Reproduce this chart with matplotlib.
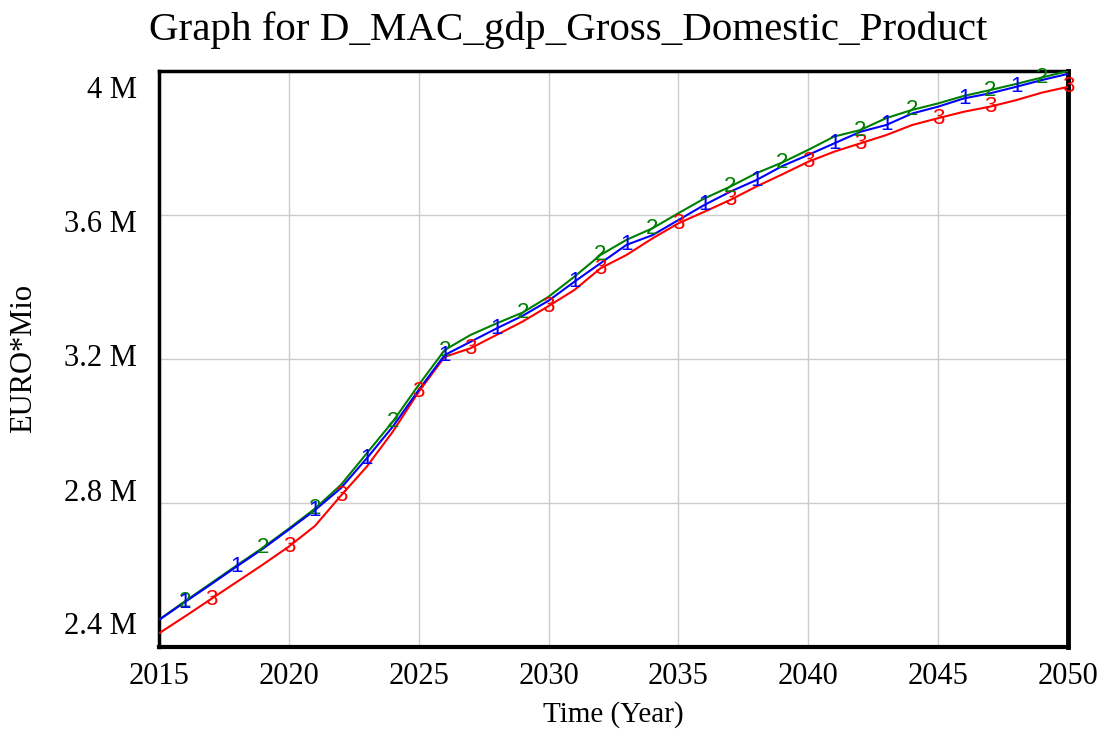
import numpy as np
import matplotlib
matplotlib.use("Agg")
import matplotlib.pyplot as plt

# datos (EURO*Mio, en millones)
years = np.arange(2015, 2051)

run1 = [2.475, 2.525, 2.574, 2.624, 2.673, 2.726, 2.780, 2.841, 2.924, 3.012,
        3.114, 3.211, 3.248, 3.285, 3.320, 3.362, 3.415, 3.466, 3.517, 3.544,
        3.586, 3.628, 3.665, 3.697, 3.736, 3.767, 3.799, 3.831, 3.850, 3.882,
        3.901, 3.924, 3.938, 3.956, 3.975, 3.992]
run2 = [2.476, 2.527, 2.577, 2.627, 2.676, 2.729, 2.784, 2.850, 2.938, 3.026,
        3.128, 3.225, 3.267, 3.299, 3.329, 3.373, 3.429, 3.489, 3.531, 3.563,
        3.605, 3.646, 3.679, 3.716, 3.746, 3.781, 3.818, 3.836, 3.869, 3.892,
        3.910, 3.931, 3.947, 3.964, 3.982, 4.000]
run3 = [2.438, 2.485, 2.533, 2.581, 2.629, 2.679, 2.736, 2.820, 2.901, 2.998,
        3.109, 3.206, 3.230, 3.267, 3.304, 3.347, 3.392, 3.452, 3.489, 3.535,
        3.577, 3.609, 3.642, 3.679, 3.713, 3.748, 3.776, 3.799, 3.822, 3.850,
        3.869, 3.887, 3.901, 3.919, 3.940, 3.956]

# anos donde aparece el numero de cada serie
marks1 = [2016, 2018, 2021, 2023, 2026, 2028, 2031, 2033, 2036, 2038, 2041, 2043, 2046, 2048]
marks2 = [2016, 2019, 2021, 2024, 2026, 2029, 2032, 2034, 2037, 2039, 2042, 2044, 2047, 2049]
marks3 = [2017, 2020, 2022, 2025, 2027, 2030, 2032, 2035, 2037, 2040, 2042, 2045, 2047, 2050]

yticks = [2.4, 2.8, 3.2, 3.6, 4.0]
ylabels = ["2.4 M", "2.8 M", "3.2 M", "3.6 M", "4 M"]
xticks = [2015, 2020, 2025, 2030, 2035, 2040, 2045, 2050]

plt.rcParams["font.family"] = ["Liberation Serif", "DejaVu Serif"]

W, H = 1104, 729
fig = plt.figure(figsize=(W / 100, H / 100), dpi=100)
ax = fig.add_axes([159 / W, 1 - 647 / H, (1068 - 159) / W, (647 - 71) / H])

series = [(run3, marks3, "3", "#ff0000"),
          (run2, marks2, "2", "#008000"),
          (run1, marks1, "1", "#0000ff")]
for vals, marks, tag, col in series:
    ax.plot(years, vals, color=col, lw=1.5, zorder=3)
    for m in marks:
        ax.text(m, vals[m - 2015], tag, color=col, fontsize=16,
                family=["Liberation Sans", "DejaVu Sans"],
                ha="center", va="center", zorder=4)

ax.set_xlim(2015, 2050)
ax.set_ylim(2.4, 4.0)
ax.set_xticks(xticks)
ax.set_xticklabels([str(x) for x in xticks], fontsize=22)
ax.set_yticks(yticks)
ax.set_yticklabels([])
ax.tick_params(axis="x", length=0, pad=11)
ax.tick_params(axis="y", length=0)

# etiquetas del eje y repartidas como en Vensim (las de los extremos hacia dentro)
shift = [20, 10, 0, -10, -19]
for v, lab, dy in zip(yticks, ylabels, shift):
    ax.annotate(lab, xy=(0, v), xycoords=("axes fraction", "data"),
                xytext=(-22, dy), textcoords="offset pixels",
                ha="right", va="center", fontsize=22)

ax.grid(True, color="#cccccc", lw=1)
ax.set_axisbelow(True)
for s in ax.spines.values():
    s.set_linewidth(2.5)
    s.set_color("black")
ax.spines["right"].set_linewidth(3.5)
ax.spines["bottom"].set_linewidth(3)

ax.set_xlabel("Time (Year)", fontsize=21, labelpad=7)
fig.text(24 / W, 1 - 358 / H, "EURO*Mio", fontsize=22, rotation=90,
         ha="center", va="center")
fig.text(568 / W, 1 - 40 / H, "Graph for D_MAC_gdp_Gross_Domestic_Product",
         fontsize=29.5, ha="center", va="baseline")

fig.savefig("out.png", dpi=100)
